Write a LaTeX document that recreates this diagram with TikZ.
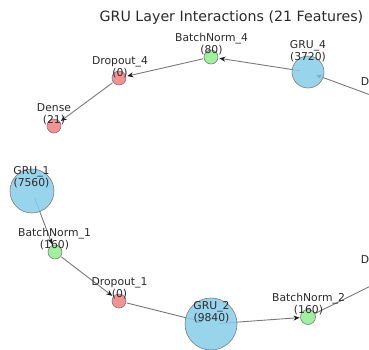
\documentclass[tikz,border=0pt]{standalone}
\usepackage{fontspec}
\setmainfont{DejaVu Sans}
\usetikzlibrary{arrows.meta,backgrounds}
\definecolor{gruc}{HTML}{87CEEB}
\definecolor{bnc}{HTML}{90EE90}
\definecolor{dpc}{HTML}{F08080}
\definecolor{edgec}{HTML}{7A7A7A}
\definecolor{txtc}{HTML}{2B2B2B}
\tikzset{
  layer/.style={circle, draw=black!55, line width=0.6pt, fill opacity=0.85, draw opacity=0.9, inner sep=0pt},
  grunode/.style={layer, fill=gruc},
  bnnode/.style={layer, fill=bnc, minimum size=14pt},
  dpnode/.style={layer, fill=dpc, minimum size=14pt},
  lbl/.style={font=\fontsize{10.8}{12.2}\selectfont, text=txtc, align=center, inner sep=0pt},
  conn/.style={draw=edgec, line width=0.9pt, shorten <=8pt, shorten >=8.5pt,
    -{Stealth[length=6pt,width=5pt,color=black!90]}},
}
\begin{document}
\begin{tikzpicture}[x=1pt,y=-1pt]
\useasboundingbox (0,0) rectangle (369,349);
\clip (0,0) rectangle (369,349);
% title
\node[font=\fontsize{14.2}{16}\selectfont, text=txtc, inner sep=0pt] (title) at (231.5,18) {GRU Layer Interactions (21 Features)};
% nodes
\node[grunode, minimum size=32pt] (gru4) at (308,72) {};
\node[bnnode] (bn4) at (211,57) {};
\node[dpnode] (dp4) at (119,78) {};
\node[dpnode] (dense) at (54,126) {};
\node[grunode, minimum size=44pt] (gru1) at (32,191) {};
\node[bnnode] (bn1) at (55,252) {};
\node[dpnode] (dp1) at (119,301) {};
\node[grunode, minimum size=52pt] (gru2) at (211,324) {};
\node[bnnode, minimum size=15pt] (bn2) at (308,317) {};
\coordinate (dp3) at (395,104);
\coordinate (dp2) at (395,274);
% edges
\begin{pgfonlayer}{background}
\fill[white] (0,0) rectangle (369,349);
\draw[conn] (gru4.center) -- (bn4.center);
\draw[conn] (bn4.center) -- (dp4.center);
\draw[conn] (dp4.center) -- (dense.center);
\draw[conn] (gru1.center) -- (bn1.center);
\draw[conn] (bn1.center) -- (dp1.center);
\draw[conn] (dp1.center) -- (gru2.center);
\draw[conn] (gru2.center) -- (bn2.center);
\draw[conn] (bn2.center) -- (dp2);
\draw[conn] (dp3) -- (gru4.center);
\end{pgfonlayer}
% labels
\node[lbl] (l-gru4) at (308,51) {GRU\_4\\(3720)};
\node[lbl] (l-bn4) at (211.5,44) {BatchNorm\_4\\(80)};
\node[lbl] (l-dp4) at (120,67) {Dropout\_4\\(0)};
\node[lbl] (l-dense) at (54,114) {Dense\\(21)};
\node[lbl] (l-gru1) at (31.5,177.5) {GRU\_1\\(7560)};
\node[lbl] (l-bn1) at (54.5,239.5) {BatchNorm\_1\\(160)};
\node[lbl] (l-dp1) at (119.5,288) {Dropout\_1\\(0)};
\node[lbl] (l-gru2) at (211.5,312.5) {GRU\_2\\(9840)};
\node[lbl] (l-bn2) at (308.5,304) {BatchNorm\_2\\(160)};
\node[lbl] (l-dp3) at (365,82) {D};
\node[lbl] (l-dp2) at (365,260) {D};
\end{tikzpicture}
\end{document}
